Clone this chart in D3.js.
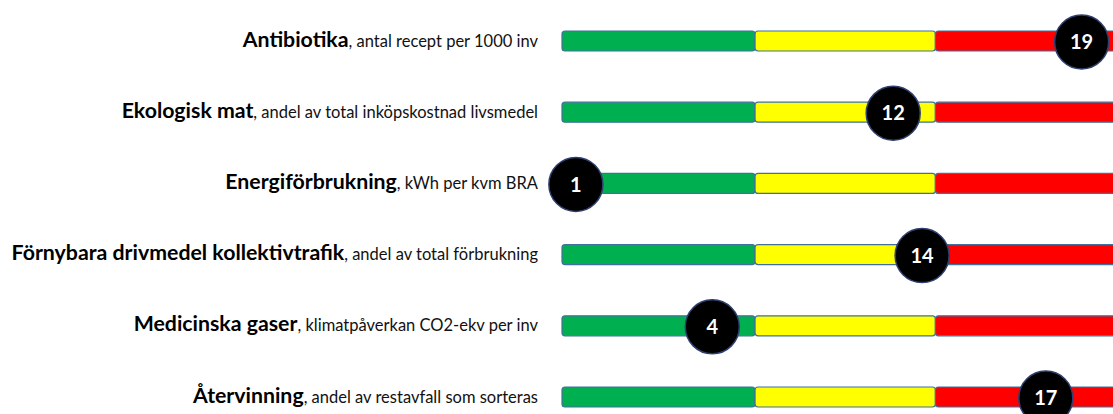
<!DOCTYPE html>
<html>
<head>
<meta charset="utf-8">
<script src="https://cdn.jsdelivr.net/npm/d3@7"></script>
<style>
  html, body { margin: 0; padding: 0; background: #fff; }
  svg { display: block; font-family: Lato, 'Open Sans', sans-serif; }
</style>
</head>
<body>
<svg id="chart" width="1113" height="414"></svg>
<script>
// indicator names (bold part) and their units
const categories = [
  'Antibiotika',
  'Ekologisk mat',
  'Energiförbrukning',
  'Förnybara drivmedel kollektivtrafik',
  'Medicinska gaser',
  'Återvinning',
];
const units = [
  'antal recept per 1000 inv',
  'andel av total inköpskostnad  livsmedel',
  'kWh per kvm BRA',
  'andel av total förbrukning',
  'klimatpåverkan CO2-ekv per inv',
  'andel av restavfall som sorteras',
];
// rank shown in the circle, and where the marker sits on the 0-100 bar
const ranks = [19, 12, 1, 14, 4, 17];
const scores = [89.9, 57.3, 2.4, 62.3, 26, 83.7];
// colour zones on the bar
const zoneBreaks = [0, 33.4, 64.6, 100];
const zoneColors = ['#00b050', '#ffff00', '#ff0000'];

const opts = {
  width: 1113,
  height: 414,
  barLeft: 562,
  barRight: 1140,
  barHeight: 20,
  labelRight: 538,
  radius: 27,
};

const svg = d3.select('#chart');

const x = d3.scaleLinear().domain([0, 100]).range([opts.barLeft, opts.barRight]);
const y = d3.scalePoint().domain(d3.range(categories.length)).range([41, 397]);

const zones = d3.range(zoneColors.length).map(i => ({
  from: zoneBreaks[i],
  to: zoneBreaks[i + 1],
  color: zoneColors[i],
}));

const rows = svg.selectAll('g.row')
  .data(categories.map((name, i) => ({
    name, unit: units[i], rank: ranks[i], score: scores[i], i,
  })))
  .join('g')
  .attr('class', 'row')
  .attr('transform', d => `translate(0, ${y(d.i)})`);

// labels
const label = rows.append('text')
  .attr('x', opts.labelRight)
  .attr('y', 0)
  .attr('dy', '0.35em')
  .attr('text-anchor', 'end')
  .attr('fill', '#000');
label.append('tspan')
  .attr('font-weight', 700)
  .attr('font-size', 21.3)
  .text(d => d.name);
label.append('tspan')
  .attr('font-size', 16.5)
  .attr('fill', '#111')
  .text(d => ', ' + d.unit);

// bar segments
rows.selectAll('rect.zone')
  .data(zones)
  .join('rect')
  .attr('class', 'zone')
  .attr('x', z => x(z.from))
  .attr('y', -opts.barHeight / 2)
  .attr('width', z => x(z.to) - x(z.from))
  .attr('height', opts.barHeight)
  .attr('rx', 3)
  .attr('fill', z => z.color)
  .attr('stroke', '#41719c')
  .attr('stroke-width', 1.2);

// rank markers
rows.append('circle')
  .attr('cx', d => x(d.score))
  .attr('cy', 1)
  .attr('r', opts.radius)
  .attr('fill', '#000')
  .attr('stroke', '#2f3f6f')
  .attr('stroke-width', 1.5);

rows.append('text')
  .attr('x', d => x(d.score))
  .attr('y', 1)
  .attr('dy', '0.36em')
  .attr('text-anchor', 'middle')
  .attr('fill', '#fff')
  .attr('font-weight', 700)
  .attr('font-size', 20)
  .text(d => d.rank);
</script>
</body>
</html>
